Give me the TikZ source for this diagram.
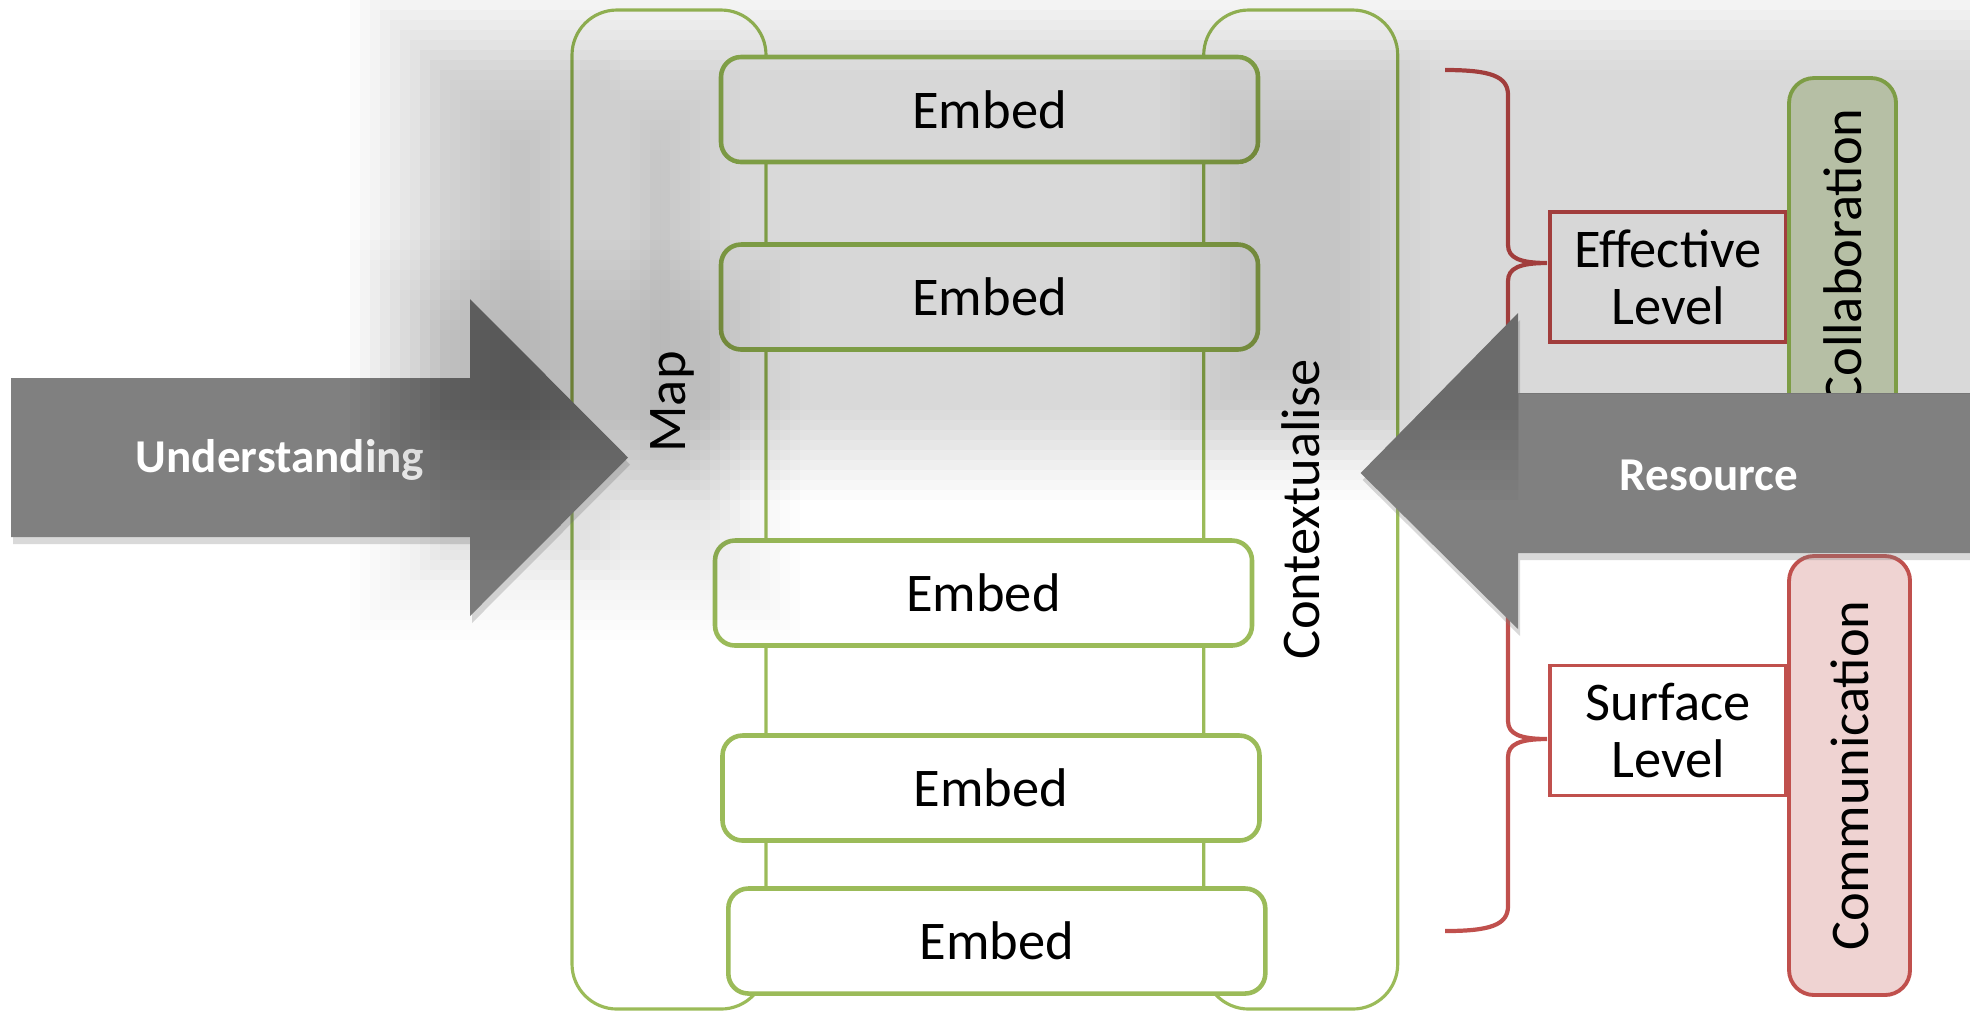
\documentclass[tikz,border=0pt]{standalone}
\usepackage{fontspec}
\setmainfont{Carlito}
\usetikzlibrary{positioning,shadows,calc}
\definecolor{stepgreen}{RGB}{155,187,89}
\definecolor{levelred}{RGB}{192,80,77}

% soft grey haze: nested see-through rectangles
\newcommand{\hazeblob}[5]{%
  \foreach \k in {0,...,9}{
    \fill[black,fill opacity=#5]
      ($(#1,#2)+(\k*0.1,-\k*0.1)$) rectangle ($(#3,#4)+(-\k*0.1,\k*0.1)$);
  }}

\begin{document}
\begin{tikzpicture}[
  colbox/.style={draw=stepgreen,line width=0.9pt,rounded corners=0.45cm,
    minimum width=1.94cm,minimum height=9.99cm},
  embedbox/.style={draw=stepgreen,line width=1.3pt,fill=white,rounded corners=0.2cm,
    minimum width=5.37cm,minimum height=1.05cm,font=\fontsize{15.5}{16}\selectfont},
  levelbox/.style={draw=levelred,line width=1.1pt,fill=white,minimum width=2.36cm,
    minimum height=1.30cm,align=center,font=\fontsize{15.5}{16.2}\selectfont},
  sidetext/.style={rotate=90,font=\fontsize{15.5}{16}\selectfont},
  tagbox/.style={rotate=90,line width=1.1pt,rounded corners=0.25cm,
    font=\fontsize{15.5}{16}\selectfont},
  arrowtext/.style={text=white,font=\bfseries\fontsize{13.4}{14}\selectfont},
  bigarrow/.style={fill=black!50,drop shadow={opacity=0.3,shadow xshift=0.02cm,shadow yshift=-0.07cm}},
]
\useasboundingbox (0,0) rectangle (19.70,-10.12);

% the two columns
\node[colbox] (mapcol) at (6.69,-5.095) {};
\node[colbox] (ctxcol) at (13.007,-5.095) {};
\node[sidetext] (maplbl) at (6.72,-4.02) {Map};
\node[sidetext] (ctxlbl) at (13.01,-5.09) {Contextualise};

% embed steps
\node[embedbox] (e1) at (9.895,-1.095) {Embed};
\node[embedbox] (e2) at (9.895,-2.97) {Embed};
\node[embedbox] (e3) at (9.835,-5.93) {Embed};
\node[embedbox] (e4) at (9.91,-7.88) {Embed};
\node[embedbox] (e5) at (9.968,-9.41) {Embed};

% levels
\node[levelbox] (eff) at (16.68,-2.77) {Effective\\Level};
\node[levelbox] (surf) at (16.68,-7.305) {Surface\\Level};
\node[tagbox,draw=stepgreen,fill=stepgreen!35,minimum width=3.58cm,minimum height=1.07cm]
  (collab) at (18.425,-2.57) {Collaboration};
\node[tagbox,draw=levelred,fill=levelred!25,minimum width=4.39cm,minimum height=1.21cm]
  (comm) at (18.495,-7.755) {Communication};

% brace
\draw[levelred,line width=1.2pt]
  (14.45,-0.70) .. controls (14.90,-0.70) and (15.08,-0.76) .. (15.08,-0.95)
  -- (15.08,-2.45) .. controls (15.08,-2.58) and (15.20,-2.63) .. (15.47,-2.63)
  .. controls (15.20,-2.63) and (15.08,-2.68) .. (15.08,-2.81)
  -- (15.08,-7.21) .. controls (15.08,-7.34) and (15.20,-7.39) .. (15.47,-7.39)
  .. controls (15.20,-7.39) and (15.08,-7.44) .. (15.08,-7.57)
  -- (15.08,-9.06) .. controls (15.08,-9.25) and (14.90,-9.31) .. (14.45,-9.31);

% arrows
\fill[bigarrow] (0.11,-3.78) -- (4.70,-3.78) -- (4.70,-2.99) -- (6.28,-4.575)
  -- (4.70,-6.16) -- (4.70,-5.37) -- (0.11,-5.37) -- cycle;
\fill[bigarrow] (19.90,-3.93) -- (15.18,-3.93) -- (15.18,-3.13) -- (13.606,-4.73)
  -- (15.18,-6.29) -- (15.18,-5.53) -- (19.90,-5.53) -- cycle;

\node[arrowtext] (underst) at (2.80,-4.60) {Understanding};
\node[arrowtext] (resrc) at (17.09,-4.75) {Resource};

% haze over the top half
\begin{scope}
  \clip (0,0) -- (19.7,0) -- (19.7,-3.93) -- (15.18,-3.93) -- (15.18,-6.5) -- (0,-6.5) -- cycle;
  \hazeblob{3.5}{0.2}{20.7}{-5.0}{0.016}
  \hazeblob{3.5}{-2.4}{8.0}{-6.4}{0.009}
  \hazeblob{4.2}{-0.5}{6.2}{-5.8}{0.006}
  \hazeblob{5.8}{-0.6}{7.4}{-5.3}{0.006}
  \hazeblob{11.6}{-0.4}{14.3}{-4.6}{0.006}
\end{scope}
\end{tikzpicture}
\end{document}
